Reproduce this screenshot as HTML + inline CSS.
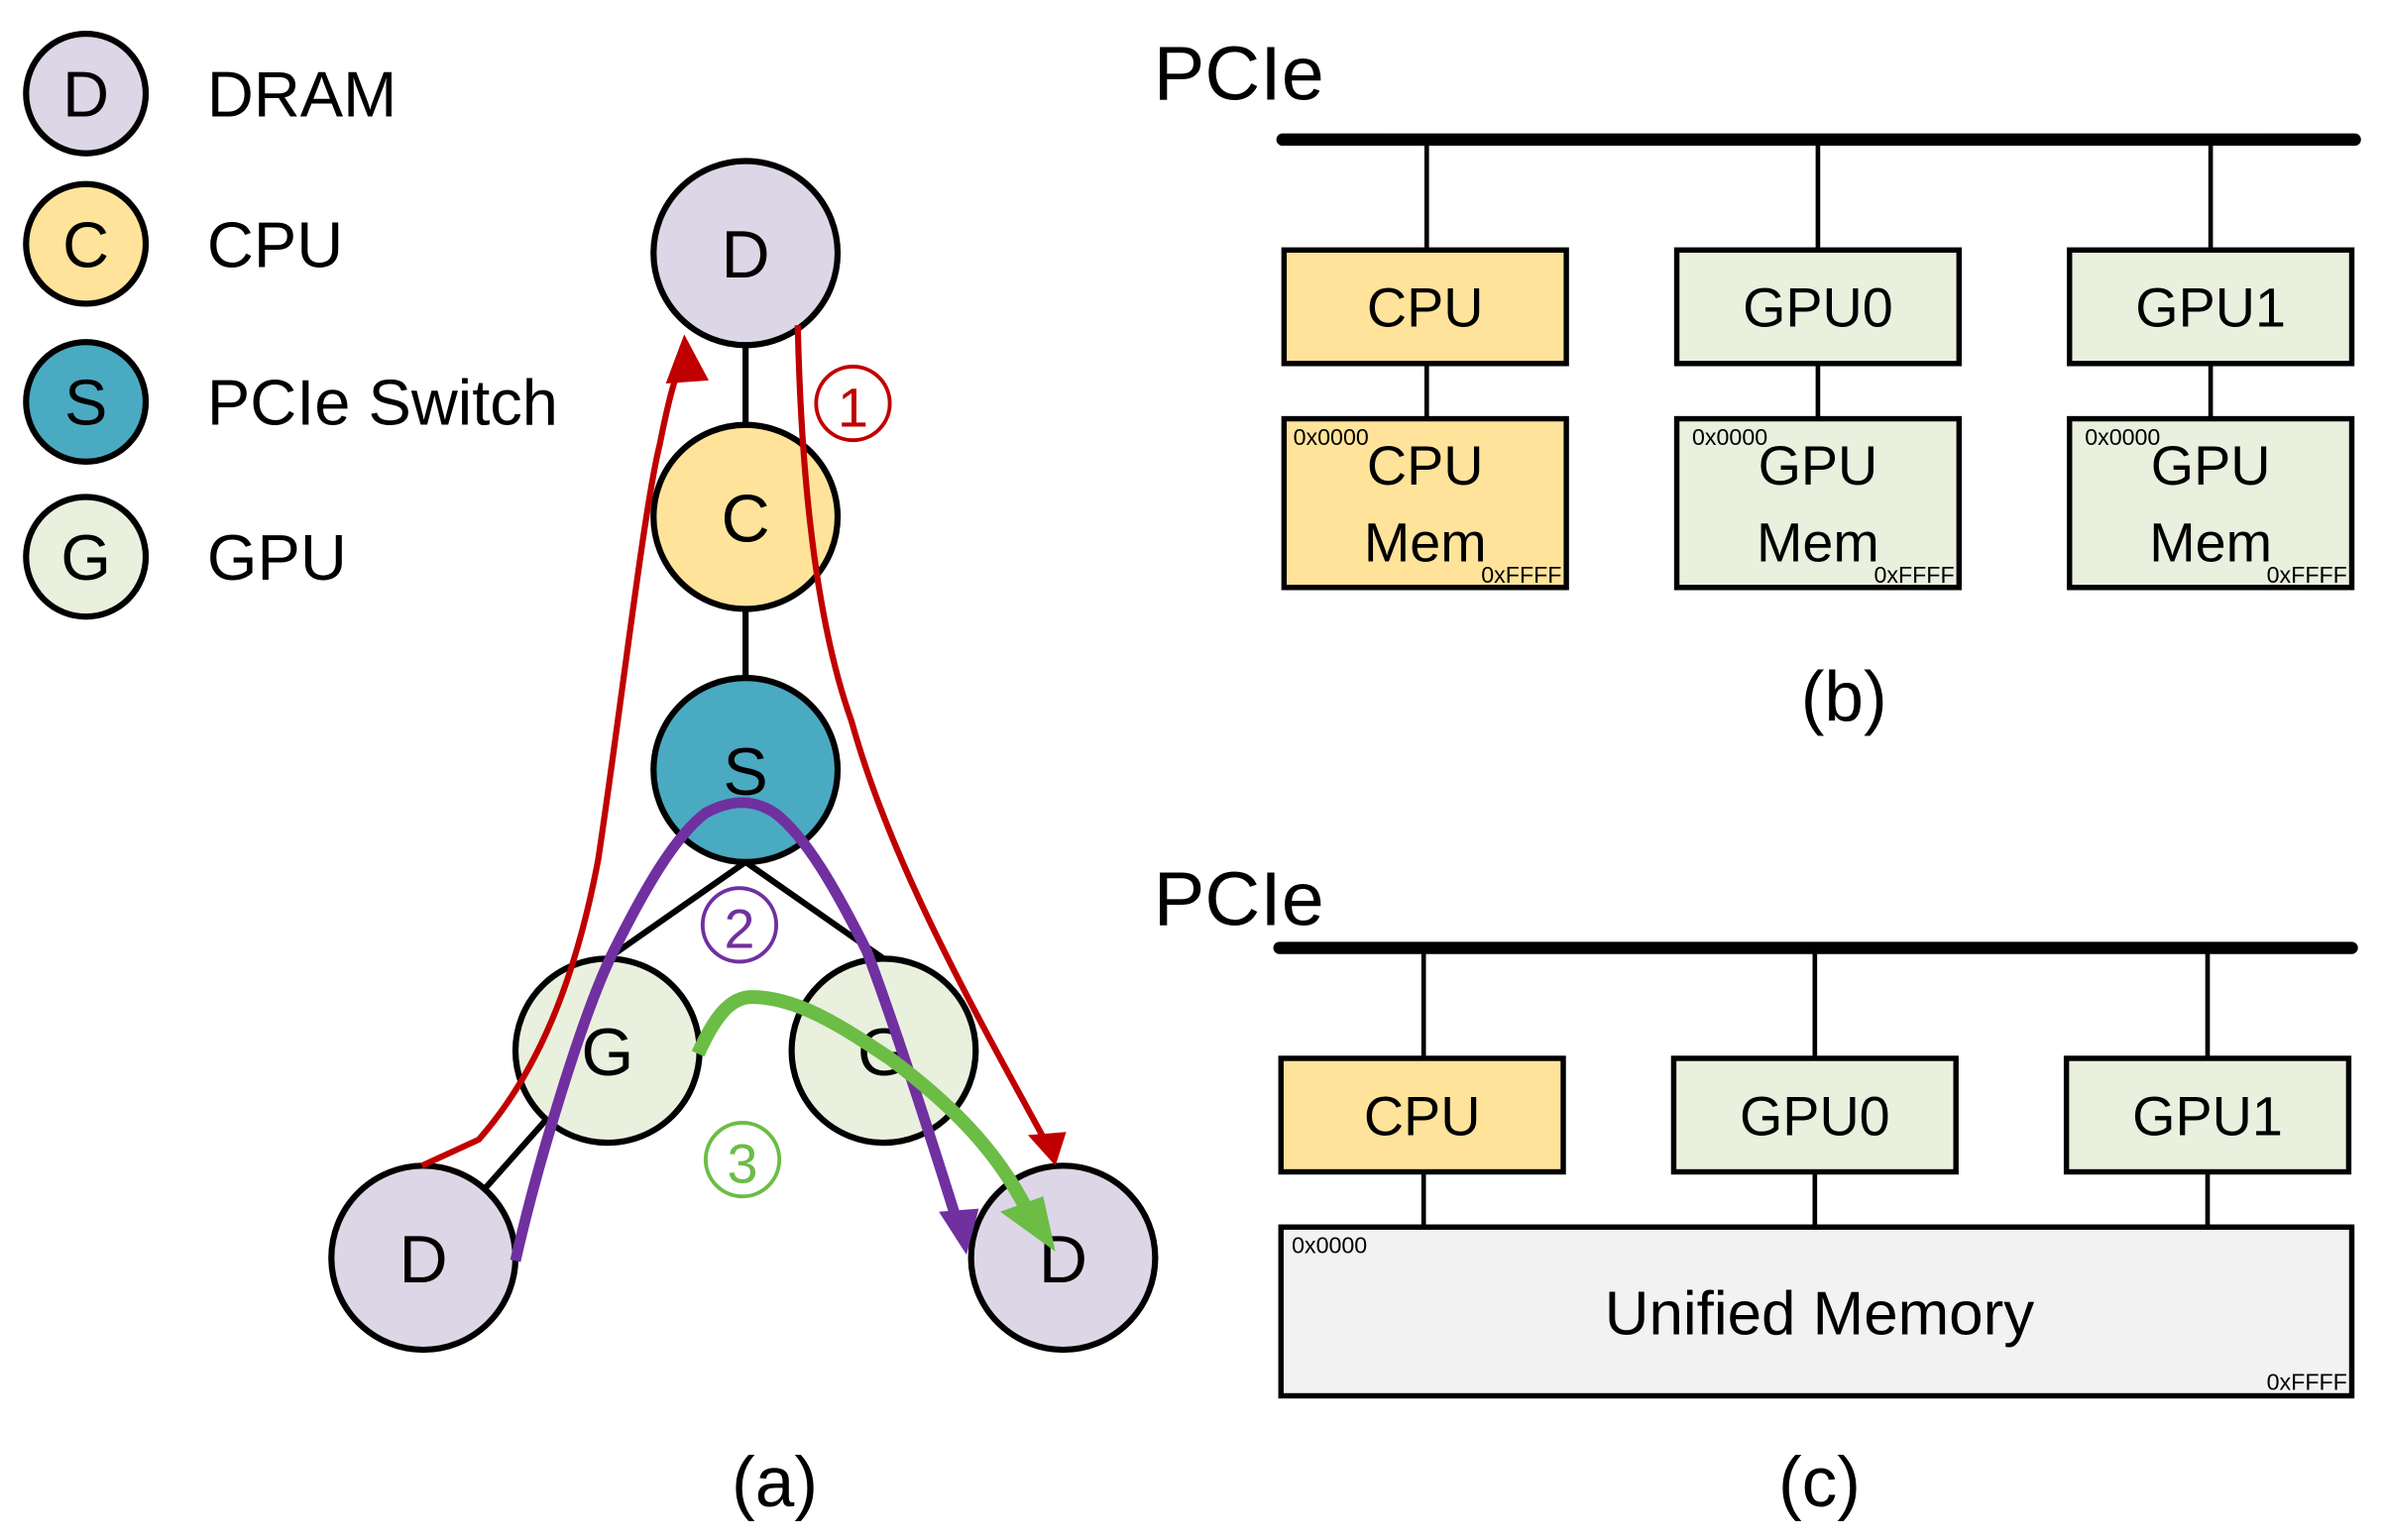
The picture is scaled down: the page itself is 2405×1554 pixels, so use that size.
<!DOCTYPE html>
<html><head><meta charset="utf-8"><style>
html,body{margin:0;padding:0;background:#fff;}
svg{display:block;}
text{font-family:"Liberation Sans",sans-serif;}
</style></head><body>
<svg width="2405" height="1554" viewBox="0 0 1554 1004" preserveAspectRatio="none">
<g stroke="#000" stroke-width="4">
<circle cx="56" cy="61" r="39" fill="#dcd6e6"/>
<circle cx="56" cy="159" r="39" fill="#ffe39a"/>
<circle cx="56" cy="262" r="39" fill="#4aaac2"/>
<circle cx="56" cy="363" r="39" fill="#e9f0de"/>
</g>
<g font-size="42" fill="#000">
<text x="56" y="76" text-anchor="middle">D</text>
<text x="56" y="174" text-anchor="middle">C</text>
<text x="56" y="277" text-anchor="middle">S</text>
<text x="56" y="378" text-anchor="middle">G</text>
<text x="135" y="76">DRAM</text>
<text x="135" y="174">CPU</text>
<text x="135" y="277">PCIe Switch</text>
<text x="135" y="378">GPU</text>
</g>
<g stroke="#000" stroke-width="4">
<line x1="486" y1="165" x2="486" y2="502"/>
<line x1="486" y1="562" x2="396" y2="625"/>
<line x1="486" y1="562" x2="576" y2="625"/>
<line x1="396" y1="685" x2="276" y2="820"/>
<circle cx="486" cy="165" r="60" fill="#dcd6e6"/>
<circle cx="486" cy="337" r="60" fill="#ffe39a"/>
<circle cx="486" cy="502" r="60" fill="#4aaac2"/>
<circle cx="396" cy="685" r="60" fill="#e9f0de"/>
<circle cx="576" cy="685" r="60" fill="#e9f0de"/>
<circle cx="276" cy="820" r="60" fill="#dcd6e6"/>
<circle cx="693" cy="820" r="60" fill="#dcd6e6"/>
</g>
<g font-size="44" fill="#000" text-anchor="middle">
<text x="486" y="181">D</text>
<text x="486" y="353">C</text>
<text x="486" y="518">S</text>
<text x="396" y="701">G</text>
<text x="576" y="701">G</text>
<text x="276" y="836">D</text>
<text x="693" y="836">D</text>
</g>
<g fill="none" stroke="#c00000" stroke-width="4">
<path d="M275,760 L312,743 C350,700 375,640 390,560 C405,460 420,330 430,290 C436,260 440,245 446,232"/>
<path d="M520,212 C522,300 530,400 555,470 C580,560 630,650 682,745"/>
</g>
<polygon points="446,218 434,250 462,248" fill="#c00000"/>
<polygon points="688,760 670,740 695,738" fill="#c00000"/>
<circle cx="556" cy="263" r="24" fill="none" stroke="#c00000" stroke-width="2.5"/>
<text x="556" y="278" font-size="36" fill="#c00000" text-anchor="middle">1</text>
<path d="M336,822 C350,760 380,660 400,620 C420,580 440,545 460,530 C475,522 490,520 505,530 C525,545 545,580 565,620 C580,660 600,720 625,800" fill="none" stroke="#7030a0" stroke-width="7"/>
<polygon points="630,818 612,790 638,788" fill="#7030a0"/>
<circle cx="482" cy="603" r="24" fill="none" stroke="#7030a0" stroke-width="2.5"/>
<text x="482" y="618" font-size="36" fill="#7030a0" text-anchor="middle">2</text>
<path d="M455,687 C465,665 475,650 490,650 C520,650 550,670 580,690 C620,720 650,750 670,790" fill="none" stroke="#6bbd45" stroke-width="9"/>
<polygon points="688,816 652,790 680,780" fill="#6bbd45"/>
<circle cx="484" cy="756" r="24" fill="none" stroke="#6bbd45" stroke-width="2.5"/>
<text x="484" y="771" font-size="36" fill="#6bbd45" text-anchor="middle">3</text>
<text x="505" y="982" font-size="46" text-anchor="middle">(a)</text>
<text x="752" y="65" font-size="50">PCIe</text>
<line x1="836" y1="91" x2="1535" y2="91" stroke="#000" stroke-width="8" stroke-linecap="round"/>
<g stroke="#000" stroke-width="3">
<line x1="930" y1="91" x2="930" y2="273"/>
<line x1="1185" y1="91" x2="1185" y2="273"/>
<line x1="1441" y1="91" x2="1441" y2="273"/>
</g>
<g stroke="#000" stroke-width="3.5">
<rect x="837" y="163" width="184" height="74" fill="#ffe39a"/>
<rect x="1093" y="163" width="184" height="74" fill="#e9f0de"/>
<rect x="1349" y="163" width="184" height="74" fill="#e9f0de"/>
<rect x="837" y="273" width="184" height="110" fill="#ffe39a"/>
<rect x="1093" y="273" width="184" height="110" fill="#e9f0de"/>
<rect x="1349" y="273" width="184" height="110" fill="#e9f0de"/>
</g>
<g font-size="36" text-anchor="middle">
<text x="929" y="213">CPU</text>
<text x="1185" y="213">GPU0</text>
<text x="1441" y="213">GPU1</text>
<text x="929" y="316">CPU</text><text x="929" y="366">Mem</text>
<text x="1185" y="316">GPU</text><text x="1185" y="366">Mem</text>
<text x="1441" y="316">GPU</text><text x="1441" y="366">Mem</text>
</g>
<g font-size="15">
<text x="843" y="290">0x0000</text><text x="1103" y="290">0x0000</text><text x="1359" y="290">0x0000</text>
<text x="1018" y="380" text-anchor="end">0xFFFF</text><text x="1274" y="380" text-anchor="end">0xFFFF</text><text x="1530" y="380" text-anchor="end">0xFFFF</text>
</g>
<text x="1202" y="470" font-size="46" text-anchor="middle">(b)</text>
<text x="752" y="603" font-size="50">PCIe</text>
<line x1="834" y1="618" x2="1533" y2="618" stroke="#000" stroke-width="8" stroke-linecap="round"/>
<g stroke="#000" stroke-width="3">
<line x1="928" y1="618" x2="928" y2="800"/>
<line x1="1183" y1="618" x2="1183" y2="800"/>
<line x1="1439" y1="618" x2="1439" y2="800"/>
</g>
<g stroke="#000" stroke-width="3.5">
<rect x="835" y="690" width="184" height="74" fill="#ffe39a"/>
<rect x="1091" y="690" width="184" height="74" fill="#e9f0de"/>
<rect x="1347" y="690" width="184" height="74" fill="#e9f0de"/>
<rect x="835" y="800" width="698" height="110" fill="#f2f2f2"/>
</g>
<g font-size="36" text-anchor="middle">
<text x="927" y="740">CPU</text>
<text x="1183" y="740">GPU0</text>
<text x="1439" y="740">GPU1</text>
<text x="1186" y="870" font-size="40">Unified Memory</text>
</g>
<text x="842" y="817" font-size="15">0x0000</text>
<text x="1530" y="906" font-size="15" text-anchor="end">0xFFFF</text>
<text x="1186" y="982" font-size="46" text-anchor="middle">(c)</text>
</svg>
</body></html>
